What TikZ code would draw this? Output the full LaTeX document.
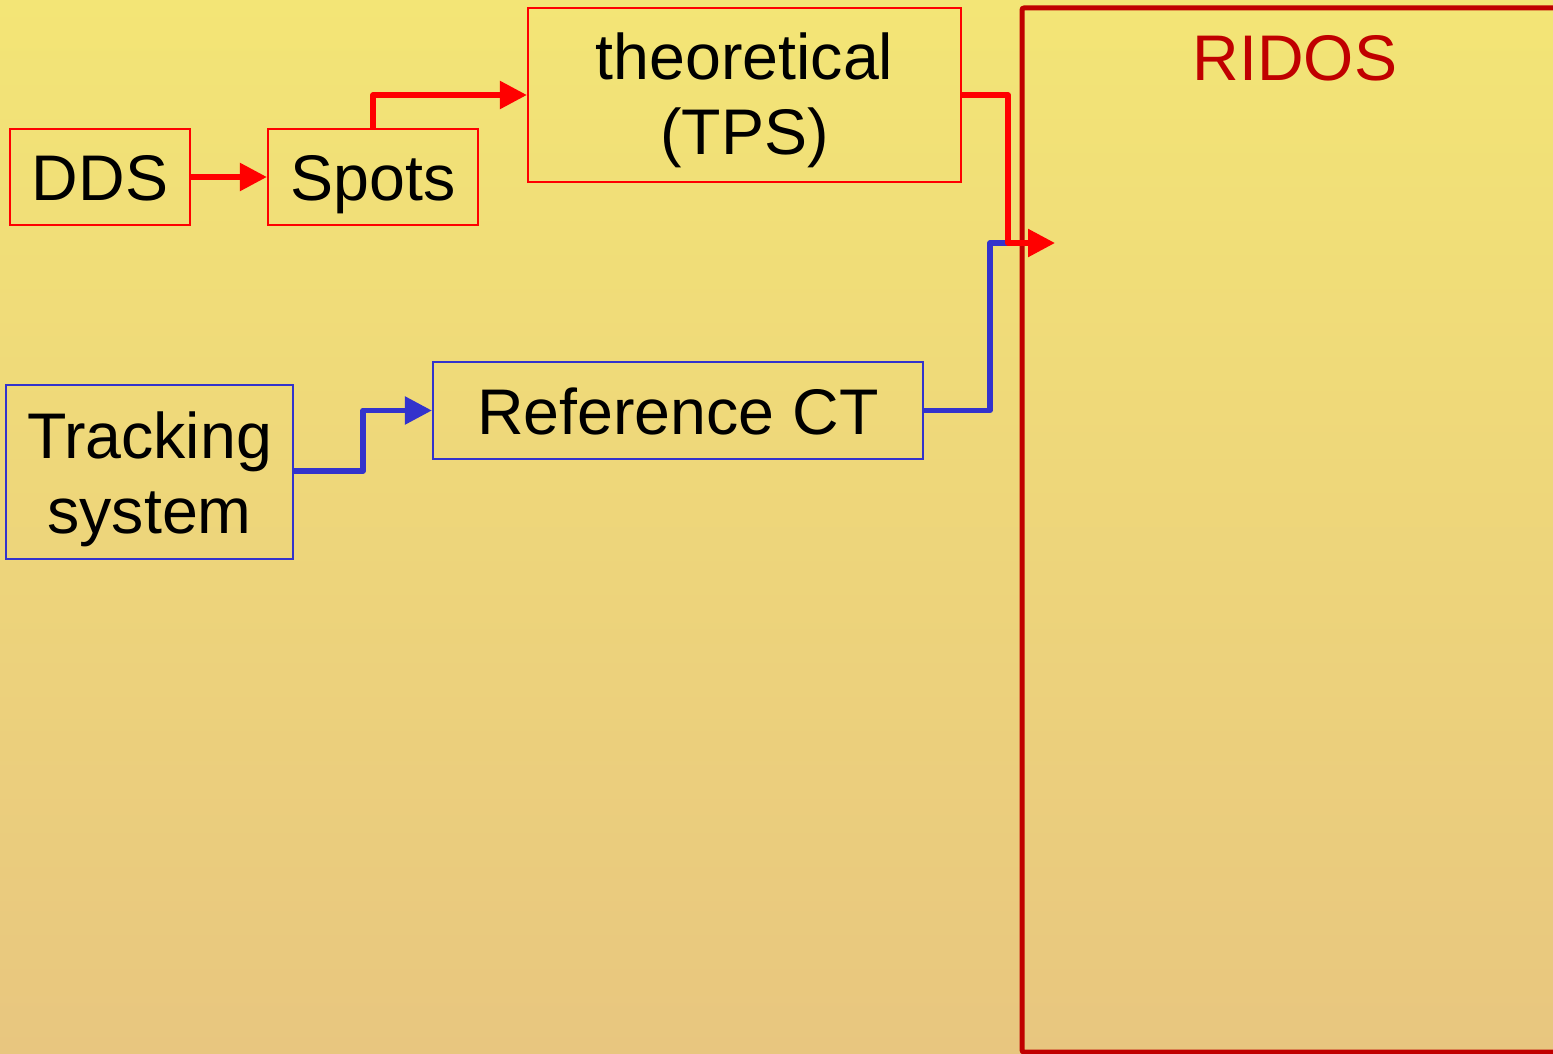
\documentclass[tikz,border=0pt]{standalone}
\usepackage{fontspec}
\setmainfont{Liberation Sans}
\usetikzlibrary{arrows.meta}
\definecolor{bgtop}{HTML}{F3E576}
\definecolor{bgbot}{HTML}{E8C67F}
\definecolor{bred}{HTML}{FF0000}
\definecolor{bblue}{HTML}{3333CC}
\definecolor{dred}{HTML}{C00000}
\begin{document}
\begin{tikzpicture}[x=1pt,y=-1pt,
  big/.style={font=\fontsize{64.5}{75}\selectfont},
  redbox/.style={draw=bred,line width=2.2pt,big,inner sep=0pt},
  bluebox/.style={draw=bblue,line width=2.2pt,big,inner sep=0pt},
  one/.style={text height=47pt,text depth=0pt},
  redarr/.style={draw=bred,line width=5.5pt,line join=round,-{Triangle[length=27pt,width=27pt]}},
  bluearr/.style={draw=bblue,line width=5.5pt,line join=round,-{Triangle[length=27pt,width=27pt]}},
  blueline/.style={draw=bblue,line width=5.5pt,line join=round}]
\useasboundingbox (0,0) rectangle (1553,1054);
\shade[top color=bgtop,bottom color=bgbot] (0,0) rectangle (1553,1054);
\begin{scope}
\clip (0,0) rectangle (1553,1054);
\draw[dred,line width=5pt,rounded corners=2pt] (1022,8) rectangle (1570,1052);
\end{scope}
\node[text=dred,big,text height=47pt,text depth=0pt,inner sep=0pt] (ridos) at (1295,57) {RIDOS};
\coordinate (rin) at (1055,243);
\coordinate (bend) at (1010,243);

\node[redbox,one,minimum width=180pt,minimum height=96pt] (dds) at (100,177) {DDS};
\node[redbox,one,minimum width=210pt,minimum height=96pt] (spots) at (373,177) {Spots};
\node[redbox,align=center,minimum width=433pt,minimum height=174pt] (tps) at (744.5,95) {\rule{0pt}{58pt}theoretical\\(TPS)};
\node[bluebox,align=center,minimum width=287pt,minimum height=174pt] (track) at (149.5,472) {\rule{0pt}{61pt}Tracking\\system};
\node[bluebox,one,minimum width=490pt,minimum height=97pt] (ct) at (678,410.5) {Reference CT};

\draw[blueline] (ct.east) -- (990,410.5) |- (bend);
\draw[bluearr] (track.east |- 0,471) -| (363,410.5) -- (ct.west);
\draw[redarr] (dds.east) -- (spots.west);
\draw[redarr] (spots.north) |- (tps.west);
\draw[redarr] (tps.east) -| (1008,243) -- (rin);
\end{tikzpicture}
\end{document}
